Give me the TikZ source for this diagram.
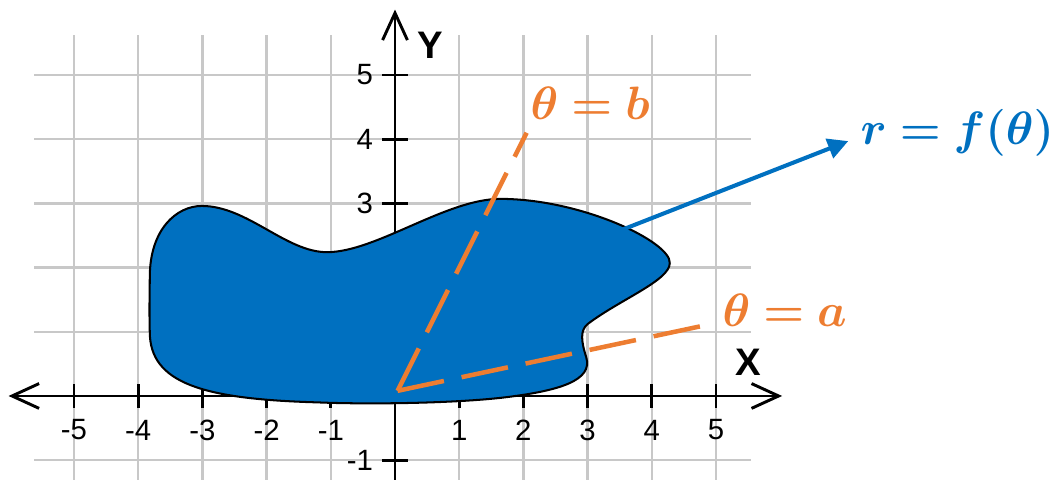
\documentclass[tikz,border=0pt]{standalone}
\usepackage{amsmath, bm}
\usepackage{fontspec}
\setsansfont{Liberation Sans}
\usetikzlibrary{arrows.meta}
\definecolor{regionblue}{HTML}{0070C0}
\definecolor{rayorange}{HTML}{ED7D31}
\definecolor{gridgray}{HTML}{C8C8C8}
\newcommand{\mathlabel}[1]{\fontsize{21}{25}\selectfont$\bm{#1}$}

\begin{document}
\begin{tikzpicture}[
    gridline/.style={gridgray, line width=1.1pt},
    axis/.style={line width=1.3pt,
                 {Straight Barb[length=12pt, width=11pt]}-{Straight Barb[length=12pt, width=11pt]}},
    tick/.style={line width=1.3pt},
    ticklabel/.style={font=\sffamily\fontsize{13}{15}\selectfont, inner sep=1pt},
    axislabel/.style={font=\sffamily\bfseries\fontsize{17}{20}\selectfont},
    region/.style={fill=regionblue, draw=black, line width=0.9pt},
    ray/.style={rayorange, line width=2pt, dash pattern=on 21pt off 8pt},
    pointer/.style={-{Triangle[length=9pt, width=9pt]}, regionblue, line width=1.8pt}
]
\useasboundingbox (-6.153,-1.308) rectangle (10.234,6.168);

% grid
\foreach \x in {-5,...,5}
    \draw[gridline] (\x,-1.31) -- (\x,5.62);
\foreach \y in {-1,...,5}
    \draw[gridline] (-5.62,\y) -- (5.55,\y);

% axes
\draw[axis] (-6.02,0) -- (6.03,0);
\draw[axis, {Straight Barb[length=12pt, width=11pt]}-] (0,6.02) -- (0,-1.31);
\foreach \x in {-5,...,-1,1,2,...,5} {
    \draw[tick] (\x,-0.18) -- (\x,0.18);
    \node[ticklabel] (xl\x) at (\x,-0.53) {\x};
}
\foreach \y in {-1,1,2,...,5}
    \draw[tick] (-0.2,\y) -- (0.2,\y);
\foreach \y in {-1,3,4,5}
    \node[ticklabel, anchor=east] (yl\y) at (-0.3,\y) {\y};
\node[axislabel] (X) at (5.5,0.53) {X};
\node[axislabel] (Y) at (0.55,5.47) {Y};

% region
\draw[region] (-3.01,2.96)
    .. controls (-2.3,2.96) and (-1.7,2.24) .. (-1.06,2.24)
    .. controls (-0.3,2.24) and (0.8,3.07) .. (1.64,3.07)
    .. controls (2.9,3.07) and (4.3,2.4) .. (4.28,2.07)
    .. controls (4.28,1.8) and (3.5,1.5) .. (3.0,1.12)
    .. controls (2.88,1.02) and (2.9,0.85) .. (2.98,0.6)
    .. controls (3.08,0.25) and (2.6,0.08) .. (1.64,-0.03)
    .. controls (0.8,-0.12) and (-0.5,-0.13) .. (-1.2,-0.1)
    .. controls (-3.0,-0.05) and (-3.82,0.2) .. (-3.82,1.0)
    .. controls (-3.83,1.4) and (-3.82,1.6) .. (-3.82,1.85)
    .. controls (-3.82,2.6) and (-3.4,2.96) .. cycle;

% rays
\coordinate (O) at (0.04,0.08);
\coordinate (Ea) at (4.78,1.09);
\coordinate (Eb) at (2.05,4.10);
\draw[ray] (O) -- (Ea);
\draw[ray] (O) -- (Eb);
\node[rayorange] (la) at (6.07,1.34) {\mathlabel{\theta = a}};
\node[rayorange] (lb) at (3.04,4.56) {\mathlabel{\theta = b}};

% boundary
\coordinate (rs) at (3.54,2.59);
\coordinate (rt) at (7.06,3.97);
\draw[pointer] (rs) -- (rt);
\node[regionblue] (lr) at (8.76,4.10) {\mathlabel{r = f(\theta)}};

\end{tikzpicture}
\end{document}
